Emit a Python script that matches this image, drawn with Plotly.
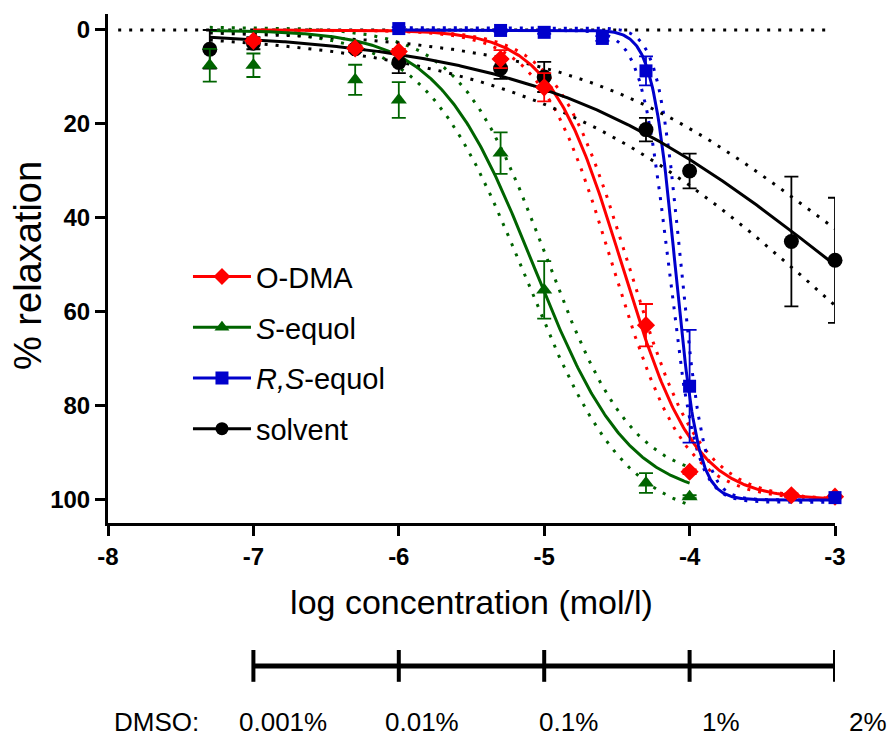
import numpy as np
import plotly.graph_objects as go

# ---------------- data ----------------
conc_odma = [-7.0, -6.3, -6.0, -5.3, -5.0, -4.3, -4.0, -3.3, -3.0]
odma = [2.3, 3.9, 4.6, 6.2, 12.2, 62.8, 94.0, 99.0, 99.3]
odma_err = [0.6, 0.6, 0.6, 1.9, 3.0, 4.5, 0.5, 0.4, 0.3]

conc_sequol = [-7.3, -7.0, -6.3, -6.0, -5.3, -5.0, -4.3, -4.0]
sequol = [7.5, 7.5, 10.6, 14.9, 26.2, 55.3, 96.4, 99.3]
sequol_err = [3.5, 2.5, 3.2, 3.8, 4.4, 6.1, 2.1, 0.3]

conc_rsequol = [-6.0, -5.3, -5.0, -4.6, -4.3, -4.0, -3.0]
rsequol = [-0.3, 0.1, 0.5, 1.8, 8.7, 75.8, 99.5]
rsequol_err = [0.3, 0.3, 0.3, 0.5, 3.1, 12.0, 0.3]

conc_solvent = [-7.3, -7.0, -6.3, -6.0, -5.3, -5.0, -4.3, -4.0, -3.3, -3.0]
solvent = [4.1, 2.8, 4.0, 6.9, 8.2, 10.0, 21.2, 30.0, 45.0, 49.0]
solvent_err = [4.1, 1.3, 0.6, 2.3, 2.2, 3.2, 2.5, 3.7, 13.8, 13.3]

# fitted sigmoid parameters: [top, bottom, logEC50, hill slope]
odma_fit = [0, 100, -4.465, 1.75]
odma_ci_lo = [0, 100, -4.53, 1.75]
odma_ci_hi = [0, 100, -4.42, 1.75]
odma_span = [-7.0, -3.0]

sequol_fit = [0, 100, -5.075, 1.33]
sequol_ci_lo = [0, 105, -5.13, 1.25]
sequol_ci_hi = [-0.6, 96.5, -4.99, 1.45]
sequol_span = [-7.3, -4.0]

rsequol_fit = [0, 100, -4.10, 5.5]
rsequol_ci_lo = [0, 100.5, -4.145, 4.6]
rsequol_ci_hi = [-0.5, 100, -4.06, 5.5]
rsequol_span = [-6.0, -3.0]

solvent_fit = [0, 100, -3.0, 0.42]
solvent_ci_lo = [0, 120, -2.95, 0.40]
solvent_ci_hi = [0, 80, -3.1, 0.50]
solvent_span = [-7.3, -3.0]

zero_line_x = [-7.93, -3.06]
zero_line_y = [0, 0]

x_ticks = [-8, -7, -6, -5, -4, -3]
x_ticklabels = ["-8", "-7", "-6", "-5", "-4", "-3"]
y_ticks = [0, 20, 40, 60, 80, 100]

dmso_pos = [-7, -6, -5, -4, -3]
dmso_labels = ["0.001%", "0.01%", "0.1%", "1%", "2%"]

# ---------------- styles ----------------
RED = "#FF0000"
GREEN = "#006400"
BLUE = "#0000CC"
BLACK = "#000000"
FONT = "Arial, Liberation Sans, sans-serif"
DOT = "3px,8px"


def sigmoid(params, span):
    top, bottom, c, h = params
    x = np.linspace(span[0], span[1], 400)
    y = top + (bottom - top) / (1 + 10 ** ((c - x) * h))
    return x, y


fig = go.Figure()

series = [
    ("O-DMA", RED, "diamond", 14, conc_odma, odma, odma_err, odma_fit, odma_ci_lo, odma_ci_hi, odma_span),
    ("<i>S</i>-equol", GREEN, "triangle-up", 14, conc_sequol, sequol, sequol_err, sequol_fit, sequol_ci_lo, sequol_ci_hi, sequol_span),
    ("<i>R,S</i>-equol", BLUE, "square", 13, conc_rsequol, rsequol, rsequol_err, rsequol_fit, rsequol_ci_lo, rsequol_ci_hi, rsequol_span),
    ("solvent", BLACK, "circle", 15, conc_solvent, solvent, solvent_err, solvent_fit, solvent_ci_lo, solvent_ci_hi, solvent_span),
]

# legend-only entries (line + marker)
for i, (name, col, sym, sz, *_rest) in enumerate(series):
    fig.add_trace(go.Scatter(
        x=[None], y=[None], mode="lines+markers", name=name,
        legendgroup=f"g{i}",
        line=dict(color=col, width=3),
        marker=dict(symbol=sym, size=13, color=col),
        showlegend=True,
    ))

# zero reference dotted line
fig.add_trace(go.Scatter(
    x=zero_line_x, y=zero_line_y, mode="lines",
    line=dict(color=BLACK, width=3, dash=DOT), showlegend=False, hoverinfo="skip",
))

# confidence bands (dotted)
for name, col, sym, sz, cx, cy, ce, fit, lo, hi, span in series:
    for band in (lo, hi):
        bx, by = sigmoid(band, span)
        fig.add_trace(go.Scatter(
            x=bx, y=by, mode="lines",
            line=dict(color=col, width=3, dash=DOT),
            showlegend=False, hoverinfo="skip",
        ))

# fitted curves
for name, col, sym, sz, cx, cy, ce, fit, lo, hi, span in series:
    fx, fy = sigmoid(fit, span)
    fig.add_trace(go.Scatter(
        x=fx, y=fy, mode="lines",
        line=dict(color=col, width=3),
        showlegend=False, hoverinfo="skip",
    ))

# data points with error bars (draw solvent first so others sit on top)
for name, col, sym, sz, cx, cy, ce, fit, lo, hi, span in [series[3], series[1], series[0], series[2]]:
    fig.add_trace(go.Scatter(
        x=cx, y=cy, mode="markers",
        marker=dict(symbol=sym, size=sz, color=col, line=dict(width=0)),
        error_y=dict(type="data", array=ce, visible=True, color=col, thickness=1.8, width=7),
        showlegend=False, cliponaxis=False, hoverinfo="skip",
    ))

# DMSO scale bar below the axis
BAR_Y = -0.281
TICK_TOP = -0.2495
TICK_BOT = -0.312
fig.add_shape(type="line", xref="x", yref="paper",
              x0=dmso_pos[0], x1=dmso_pos[-1], y0=BAR_Y, y1=BAR_Y,
              line=dict(color=BLACK, width=5))
for p in dmso_pos:
    fig.add_shape(type="line", xref="x", yref="paper",
                  x0=p, x1=p, y0=TICK_TOP, y1=TICK_BOT,
                  line=dict(color=BLACK, width=4))

label_shift = [30, 23, 24, 31, 33]
for p, lab, sh in zip(dmso_pos, dmso_labels, label_shift):
    fig.add_annotation(x=p, y=-0.391, xref="x", yref="paper", text=lab,
                       showarrow=False, xshift=sh, xanchor="center", yanchor="middle",
                       font=dict(family=FONT, size=26, color=BLACK))
fig.add_annotation(x=x_ticks[0], y=-0.391, xref="x", yref="paper", text="DMSO:",
                   showarrow=False, xshift=4, xanchor="left", yanchor="middle",
                   font=dict(family=FONT, size=26, color=BLACK))

# y-axis title placed as rotated text for exact positioning
fig.add_annotation(x=-0.110, y=0.505, xref="paper", yref="paper", text="% relaxation",
                   showarrow=False, textangle=-90, xanchor="center", yanchor="middle",
                   font=dict(family=FONT, size=38, color=BLACK))

fig.update_layout(
    width=888, height=738,
    margin=dict(l=108, r=53, t=14, b=215, pad=0),
    paper_bgcolor="white", plot_bgcolor="white",
    font=dict(family=FONT, color=BLACK),
    showlegend=True,
    legend=dict(
        x=0.11, y=0.534, xanchor="left", yanchor="top",
        bgcolor="rgba(0,0,0,0)", borderwidth=0,
        font=dict(family=FONT, size=29, color=BLACK),
        tracegroupgap=10, itemwidth=58, traceorder="grouped",
    ),
    xaxis=dict(
        range=[-8, -3], tickvals=x_ticks, ticktext=x_ticklabels,
        showgrid=False, zeroline=False,
        showline=True, linecolor=BLACK, linewidth=3,
        ticks="outside", ticklen=10, tickwidth=3, tickcolor=BLACK,
        tickfont=dict(family=FONT, size=24, color=BLACK, weight="bold"),
        title=dict(text="log concentration (mol/l)", standoff=22,
                   font=dict(family=FONT, size=34, color=BLACK)),
    ),
    yaxis=dict(
        range=[104.9, -3.4], tickvals=y_ticks,
        showgrid=False, zeroline=False,
        showline=True, linecolor=BLACK, linewidth=3,
        ticks="outside", ticklen=10, tickwidth=3, tickcolor=BLACK,
        tickfont=dict(family=FONT, size=24, color=BLACK, weight="bold"),
    ),
)

fig.write_html("out.html")
